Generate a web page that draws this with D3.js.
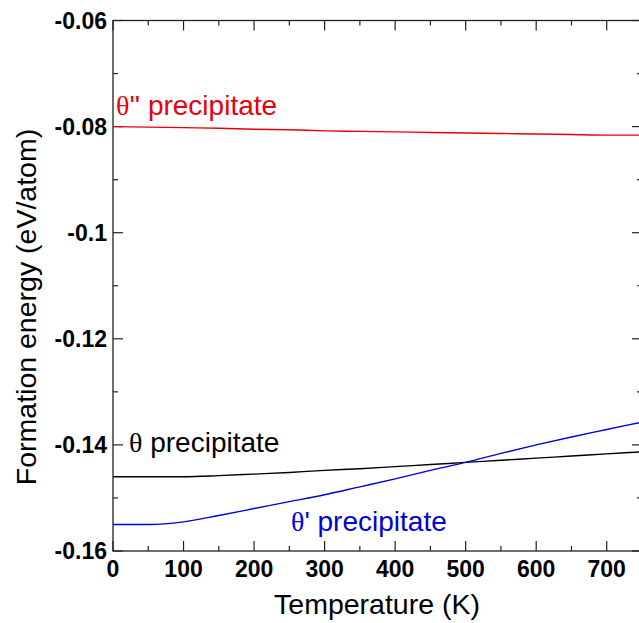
<!DOCTYPE html>
<html lang="en">
	<head>
		<meta charset="utf-8">
		<title>Formation energy</title>
		<script type="text/javascript" src="https://d3js.org/d3.v7.min.js"></script>
		<style type="text/css">
			body { margin: 0; background: #fff; }
			svg { display: block; }
		</style>
	</head>
	<body>
		<script>
			var temps = [0, 50, 100, 150, 200, 250, 300, 350, 400, 450, 500, 550, 600, 650, 700, 750];
			var thetaDoublePrime = [-0.0800, -0.0801, -0.0802, -0.0803, -0.0805, -0.0806, -0.0808, -0.0809, -0.0810, -0.0811, -0.0812, -0.0813, -0.0814, -0.0815, -0.0816, -0.0816];
			var theta = [-0.1460, -0.1460, -0.1460, -0.1458, -0.1455, -0.1452, -0.1448, -0.1445, -0.1441, -0.1437, -0.1433, -0.1429, -0.1425, -0.1421, -0.1417, -0.1413];
			var thetaPrime = [-0.1550, -0.1550, -0.1545, -0.1533, -0.1520, -0.1507, -0.1494, -0.1479, -0.1464, -0.1448, -0.1433, -0.1416, -0.1400, -0.1385, -0.1371, -0.1357];
			var xTicks = [0, 100, 200, 300, 400, 500, 600, 700];
			var yTicks = [-0.06, -0.08, -0.1, -0.12, -0.14, -0.16];
			var yTickLabels = ["-0.06", "-0.08", "-0.1", "-0.12", "-0.14", "-0.16"];

			var outerWidth = 639,
				outerHeight = 623,
				plotLeft = 113, plotRight = 642,
				plotTop = 20.5, plotBottom = 551;

			var svg = d3.select("body")
						.append("svg")
						.attr("width", outerWidth)
						.attr("height", outerHeight);

			var x = d3.scaleLinear().domain([0, 750]).range([plotLeft, plotRight]);
			var y = d3.scaleLinear().domain([-0.16, -0.06]).range([plotBottom, plotTop]);

			var axisColor = "#222";
			var sans = "'Liberation Sans', Arial, Helvetica, sans-serif";

			// major + minor ticks, all pointing inward
			var xMinor = d3.range(0, 751, 50);
			var yMinor = d3.range(0, 11).map(function(i) { return -0.16 + i * 0.01; });

			var ticks = svg.append("g").attr("stroke", axisColor).attr("stroke-width", 1.2);
			xMinor.forEach(function(t) {
				var len = (t % 100 === 0) ? 10 : 5;
				ticks.append("line").attr("x1", x(t)).attr("x2", x(t)).attr("y1", plotBottom).attr("y2", plotBottom - len);
				ticks.append("line").attr("x1", x(t)).attr("x2", x(t)).attr("y1", plotTop).attr("y2", plotTop + len);
			});
			yMinor.forEach(function(v, i) {
				var len = (i % 2 === 0) ? 10 : 5;
				ticks.append("line").attr("x1", plotLeft).attr("x2", plotLeft + len).attr("y1", y(v)).attr("y2", y(v));
				ticks.append("line").attr("x1", plotRight).attr("x2", plotRight - len).attr("y1", y(v)).attr("y2", y(v));
			});

			svg.append("rect")
				.attr("x", plotLeft).attr("y", plotTop)
				.attr("width", plotRight - plotLeft).attr("height", plotBottom - plotTop)
				.attr("fill", "none").attr("stroke", axisColor).attr("stroke-width", 1.3);

			svg.append("g").selectAll("text")
				.data(xTicks).enter().append("text")
				.attr("x", function(d) { return x(d); })
				.attr("y", 577)
				.attr("text-anchor", "middle")
				.attr("font-family", sans)
				.attr("font-weight", "bold")
				.attr("font-size", 23)
				.text(function(d) { return d; });

			svg.append("g").selectAll("text")
				.data(yTicks).enter().append("text")
				.attr("x", 107)
				.attr("y", function(d) { return y(d); })
				.attr("dy", "0.36em")
				.attr("text-anchor", "end")
				.attr("font-family", sans)
				.attr("font-weight", "bold")
				.attr("font-size", 23)
				.text(function(d, i) { return yTickLabels[i]; });

			svg.append("text")
				.attr("x", 377).attr("y", 614)
				.attr("text-anchor", "middle")
				.attr("font-family", sans)
				.attr("font-size", 28.5)
				.text("Temperature (K)");

			svg.append("text")
				.attr("transform", "translate(36,307) rotate(-90)")
				.attr("text-anchor", "middle")
				.attr("font-family", sans)
				.attr("font-size", 28.5)
				.text("Formation energy (eV/atom)");

			var series = [
				{name: "dp", values: thetaDoublePrime, color: "#e8000b"},
				{name: "t", values: theta, color: "#000000"},
				{name: "p", values: thetaPrime, color: "#0000d8"}
			];

			var line = d3.line()
				.x(function(d, i) { return x(temps[i]); })
				.y(function(d) { return y(d); })
				.curve(d3.curveMonotoneX);

			svg.append("g").selectAll("path")
				.data(series).enter().append("path")
				.attr("d", function(d) { return line(d.values); })
				.attr("fill", "none")
				.attr("stroke", function(d) { return d.color; })
				.attr("stroke-width", 1.4);

			var labels = [
				{x: 116, y: 115, prime: "''", color: "#e8000b"},
				{x: 129, y: 452, prime: "", color: "#000000"},
				{x: 291, y: 531, prime: "'", color: "#0000d8"}
			];
			labels.forEach(function(l) {
				var t = svg.append("text")
					.attr("x", l.x).attr("y", l.y)
					.attr("fill", l.color)
					.attr("font-size", 28)
					.attr("font-family", sans);
				t.append("tspan").attr("font-family", "'Liberation Serif', 'Times New Roman', serif").text("\u03b8");
				t.append("tspan").text(l.prime + " precipitate");
			});
		</script>
	</body>
</html>
